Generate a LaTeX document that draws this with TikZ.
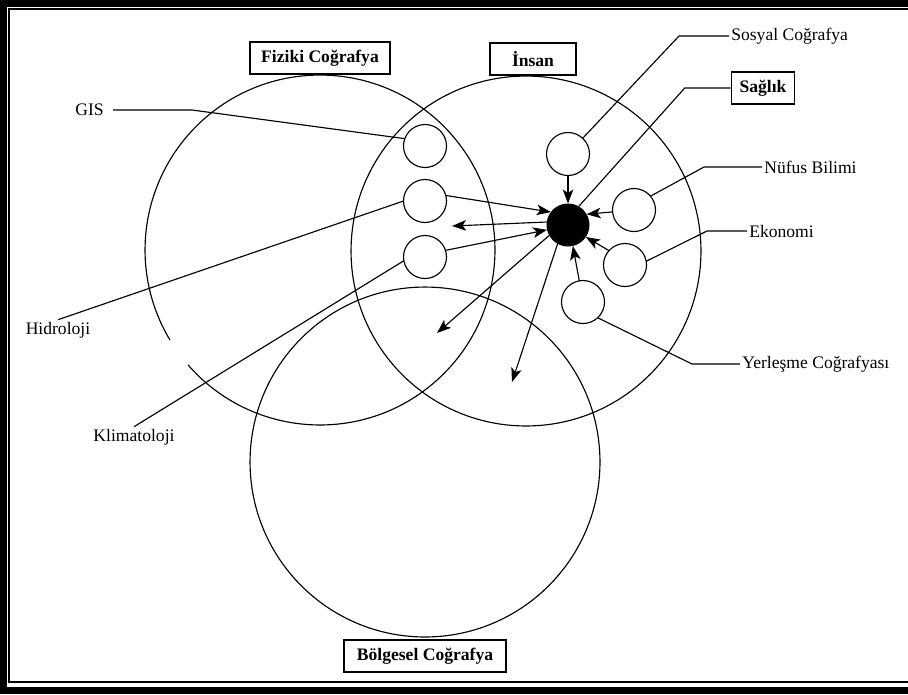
\documentclass[tikz,border=0pt]{standalone}
\usepackage{fontspec}
\setmainfont{Liberation Serif}
\usetikzlibrary{
  positioning,
  arrows.meta
}
\tikzset{
  >={Stealth[length=8pt, width=6pt, inset=2pt]},
  field/.style={circle, draw, minimum size=7cm, inner sep=0pt, outer sep=0pt},
  topic/.style={circle, draw, minimum size=0.86cm, inner sep=0pt, outer sep=0pt},
  core/.style={circle, fill=black, minimum size=0.86cm, inner sep=0pt, outer sep=0pt},
  fieldbox/.style={draw, line width=0.9pt, font=\bfseries, minimum height=0.65cm, inner sep=2pt},
  lbl/.style={inner sep=1pt}
}

\begin{document}
\begin{tikzpicture}[x=0.02cm, y=0.02cm, line width=0.65pt]
  \useasboundingbox (0,0) rectangle (908,-694);
  \clip (0,0) rectangle (908,-694);
  \draw[line width=4pt] (3,-3) rectangle (960,-690);
  \draw[line width=1.1pt] (9,-9) rectangle (960,-682);

  \node[field, draw=none] (fiz) at (320,-250) {};
  \node[field] (ins) at (526,-251) {};
  \node[field] (bol) at (425,-462) {};
  \draw (fiz.221) arc[start angle=221, end angle=571, radius=3.5cm];

  \node[fieldbox, minimum width=2.8cm, above=0pt of fiz] (fizk) {Fiziki Coğrafya};
  \node[fieldbox, minimum width=1.72cm, above=0pt of ins, xshift=0.14cm] (insk) {İnsan};
  \node[fieldbox, minimum width=3.24cm, below=0.04cm of bol] (bolk) {Bölgesel Coğrafya};
  \node[fieldbox, minimum width=1.26cm] (sag) at (763,-88) {Sağlık};

  \node[topic] (gisc) at (425,-146) {};
  \node[topic] (hidc) at (425,-201) {};
  \node[topic] (klic) at (425,-257) {};
  \node[topic] (sosc) at (568,-154) {};
  \node[topic] (nufc) at (634,-210) {};
  \node[topic] (ekoc) at (625,-265) {};
  \node[topic] (yerc) at (583,-302) {};
  \node[core] (dot) at (568,-225) {};

  \node[lbl, anchor=east, inner xsep=5pt] (gis) at (113,-110) {GIS};
  \node[lbl] (hid) at (58,-330) {Hidroloji};
  \node[lbl] (kli) at (134,-437) {Klimatoloji};
  \node[lbl, anchor=west] (sos) at (729,-36) {Sosyal Coğrafya};
  \node[lbl, anchor=west] (nuf) at (762,-167) {Nüfus Bilimi};
  \node[lbl, anchor=west] (eko) at (747,-231) {Ekonomi};
  \node[lbl, anchor=west] (yer) at (740,-364) {Yerleşme Coğrafyası};

  \coordinate (outw) at (452,-226);
  \coordinate (outsw) at (437,-333);
  \coordinate (outs) at (512,-382);

  \draw (gis.east) -- ++(79,0) -- (gisc.160);
  \draw (hid.north) -- (hidc.west);
  \draw (kli.north) -- (klic.190);
  \draw (sos.west) -- ++(-50,0) -- (sosc.47);
  \draw (sag.west) -- ++(-46,0) -- (dot.60);
  \draw (nuf.west) -- ++(-58,0) -- (nufc.40);
  \draw (eko.west) -- ++(-40,0) -- (ekoc.10);
  \draw (yer.west) -- ++(-48,0) -- (yerc.313);

  \draw[->] (sosc) -- (dot);
  \draw[->] (hidc.15) -- (dot.143);
  \draw[->] (klic.18) -- (dot.193);
  \draw[->] (nufc.185) -- (dot.30);
  \draw[->] (ekoc.138) -- (dot.326);
  \draw[->] (yerc.100) -- (dot.283);
  \draw[->] (dot.172) -- (outw);
  \draw[->] (dot.209) -- (outsw);
  \draw[->] (dot.241) -- (outs);
\end{tikzpicture}
\end{document}
